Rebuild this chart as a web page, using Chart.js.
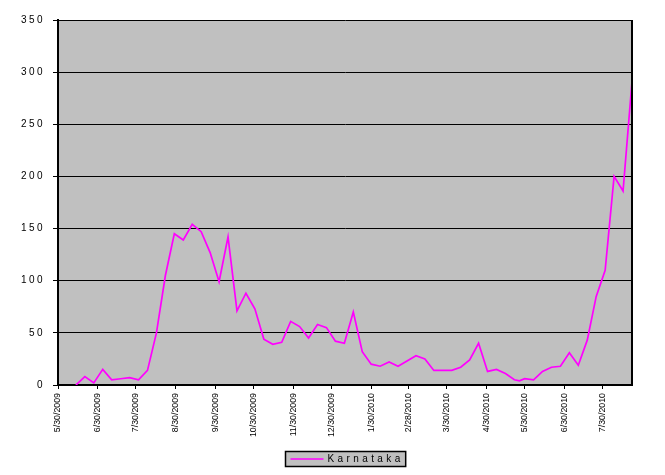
<!DOCTYPE html>
<html>
<head>
<meta charset="utf-8">
<title>Karnataka</title>
<script src="https://cdn.jsdelivr.net/npm/chart.js@4.4.1/dist/chart.umd.min.js"></script>
<style>
    html, body { margin: 0; padding: 0; background: #ffffff; }
    #wrap { width: 665px; height: 475px; position: relative; }
</style>
</head>
<body>
<div id="wrap"><canvas id="chartKarnataka"></canvas></div>
<script>
// Datos (casos semanales)
const seriesName = 'Karnataka';

const fechas = [
    '6/13/2009', '6/20/2009', '6/27/2009', '7/4/2009', '7/11/2009', '7/18/2009', '7/25/2009',
    '8/1/2009', '8/8/2009', '8/15/2009', '8/22/2009', '8/29/2009', '9/5/2009', '9/12/2009',
    '9/19/2009', '9/26/2009', '10/3/2009', '10/10/2009', '10/17/2009', '10/24/2009', '10/31/2009',
    '11/7/2009', '11/14/2009', '11/21/2009', '11/28/2009', '12/5/2009', '12/12/2009', '12/19/2009',
    '12/26/2009', '1/2/2010', '1/9/2010', '1/16/2010', '1/23/2010', '1/30/2010', '2/6/2010',
    '2/13/2010', '2/20/2010', '2/27/2010', '3/6/2010', '3/13/2010', '3/20/2010', '3/27/2010',
    '4/3/2010', '4/10/2010', '4/17/2010', '4/24/2010', '5/1/2010', '5/8/2010', '5/15/2010',
    '5/22/2010', '5/26/2010', '5/30/2010', '6/6/2010', '6/13/2010', '6/20/2010', '6/27/2010',
    '7/4/2010', '7/11/2010', '7/18/2010', '7/25/2010', '8/1/2010', '8/8/2010', '8/15/2010',
    '8/22/2010'
];

const casos = [
    0, 8, 2, 15, 5, 6, 7,
    5, 14, 50, 105, 145, 139, 154,
    147, 127, 99, 142, 71, 88, 73,
    44, 39, 41, 61, 56, 45, 58,
    55, 42, 40, 70, 32, 20, 18,
    22, 18, 23, 28, 25, 14, 14,
    14, 17, 24, 40, 13, 15, 11,
    5, 4, 6, 5, 13, 17, 18,
    31, 19, 43, 85, 110, 200, 186,
    291
];

// Etiquetas del eje X (mensuales)
const etiquetasX = [
    '5/30/2009', '6/30/2009', '7/30/2009', '8/30/2009', '9/30/2009', '10/30/2009',
    '11/30/2009', '12/30/2009', '1/30/2010', '2/28/2010', '3/30/2010', '4/30/2010',
    '5/30/2010', '6/30/2010', '7/30/2010'
];

const ticksY = [0, 50, 100, 150, 200, 250, 300, 350];

// días desde 5/30/2009
function diaDe(s) {
    const [m, d, y] = s.split('/').map(Number);
    return (Date.UTC(y, m - 1, d) - Date.UTC(2009, 4, 30)) / 86400000;
}

const diasTicks = etiquetasX.map(diaDe);
const puntos = fechas.map((f, i) => ({ x: diaDe(f), y: casos[i] }));

const fuente = '"Liberation Sans", Arial, sans-serif';

// Fondo gris del área, marco y leyenda con recuadro
const plotFrame = {
    id: 'plotFrame',
    beforeDraw(chart) {
        const { ctx, chartArea: ca } = chart;
        ctx.letterSpacing = '0px';
        ctx.save();
        ctx.fillStyle = '#c0c0c0';
        ctx.fillRect(ca.left, ca.top, ca.right - ca.left, ca.bottom - ca.top);
        ctx.restore();
    },
    afterDatasetsDraw(chart) {
        const { ctx, chartArea: ca } = chart;
        ctx.save();
        ctx.strokeStyle = '#000000';
        ctx.lineWidth = 2;
        ctx.beginPath();
        ctx.moveTo(ca.right, ca.top);
        ctx.lineTo(ca.right, ca.bottom);
        ctx.stroke();
        ctx.restore();
        // las etiquetas del eje Y se dibujan después (z: 1) con espaciado
        ctx.letterSpacing = '2.4px';
    },
    afterDraw(chart) {
        const { ctx, chartArea: ca } = chart;
        ctx.save();
        ctx.font = '10px ' + fuente;
        ctx.letterSpacing = '3.4px';
        const tw = ctx.measureText(seriesName).width;
        const w = 5 + 33 + 4 + tw + 2;
        const h = 15;
        const left = Math.round((ca.left + ca.right) / 2 - w / 2) + 0.5;
        const top = chart.height - 24 + 0.5;
        ctx.fillStyle = '#c0c0c0';
        ctx.fillRect(left, top, w, h);
        ctx.strokeStyle = '#000000';
        ctx.lineWidth = 1.5;
        ctx.strokeRect(left, top, w, h);
        ctx.strokeStyle = '#ff00ff';
        ctx.lineWidth = 1.5;
        ctx.beginPath();
        ctx.moveTo(left + 5, top + h / 2);
        ctx.lineTo(left + 38, top + h / 2);
        ctx.stroke();
        ctx.fillStyle = '#000000';
        ctx.textBaseline = 'middle';
        ctx.textAlign = 'left';
        ctx.fillText(seriesName, left + 42, top + h / 2 + 0.5);
        ctx.restore();
        ctx.letterSpacing = '0px';
    }
};

const ctx = document.getElementById('chartKarnataka').getContext('2d');

const chartKarnataka = new Chart(ctx, {
    type: 'line',
    data: {
        datasets: [{
            label: seriesName,
            data: puntos,
            borderColor: '#ff00ff',
            backgroundColor: '#ff00ff',
            borderWidth: 1.7,
            pointRadius: 0,
            tension: 0,
            fill: false
        }]
    },
    options: {
        responsive: true,
        maintainAspectRatio: false,
        animation: false,
        layout: {
            padding: { top: 20, right: 33, bottom: 24, left: 0 }
        },
        plugins: {
            legend: { display: false },
            tooltip: { enabled: false }
        },
        scales: {
            x: {
                type: 'linear',
                min: 0,
                max: diaDe(fechas[fechas.length - 1]),
                afterBuildTicks: (scale) => {
                    scale.ticks = diasTicks.map(v => ({ value: v }));
                },
                afterFit: (scale) => {
                    scale.height = 66;
                },
                grid: {
                    drawOnChartArea: false,
                    drawTicks: true,
                    tickLength: 4,
                    color: '#000000',
                    lineWidth: 1
                },
                border: { color: '#000000', width: 2 },
                ticks: {
                    autoSkip: false,
                    minRotation: 90,
                    maxRotation: 90,
                    padding: 4,
                    color: '#000000',
                    font: { family: fuente, size: 8.8 },
                    callback: (value) => etiquetasX[diasTicks.indexOf(value)]
                }
            },
            y: {
                min: 0,
                max: 350,
                afterBuildTicks: (scale) => {
                    scale.ticks = ticksY.map(v => ({ value: v }));
                },
                afterFit: (scale) => {
                    scale.width = 58;
                },
                grid: {
                    color: '#000000',
                    lineWidth: 1,
                    tickLength: 5
                },
                border: { color: '#000000', width: 2 },
                ticks: {
                    z: 1,
                    padding: 8,
                    color: '#000000',
                    font: { family: fuente, size: 10 }
                }
            }
        }
    },
    plugins: [plotFrame]
});
</script>
</body>
</html>
